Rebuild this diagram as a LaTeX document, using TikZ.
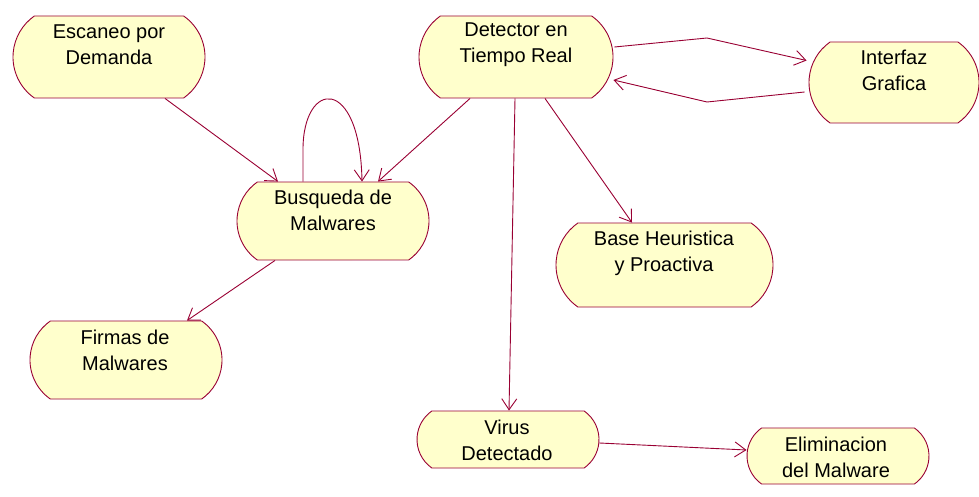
\documentclass[tikz,border=0pt]{standalone}
\usepackage{fontspec}
\setmainfont{Liberation Sans}
\usetikzlibrary{shapes.misc,arrows.meta}
\definecolor{edgered}{RGB}{153,0,51}
\definecolor{statefill}{RGB}{255,255,204}
\tikzset{
  state/.style={rounded rectangle, rounded rectangle arc length=110, draw=edgered, fill=statefill, line width=0.9pt, inner sep=0pt},
  lbl/.style={align=center, font=\fontsize{20}{26}\selectfont, inner sep=0pt},
  flow/.style={draw=edgered, line width=0.9pt, -{Straight Barb[length=11pt,width=15pt,line width=0.9pt]}}
}
\begin{document}
\begin{tikzpicture}[x=1pt,y=-1pt]
\useasboundingbox (0,0) rectangle (979,497);
% states
\node[state, minimum width=192, minimum height=82] (esc) at (109,57) {};
\node[state, minimum width=194, minimum height=82] (det) at (516,57) {};
\node[state, minimum width=170, minimum height=81] (int) at (894,82.5) {};
\node[state, minimum width=192, minimum height=78] (bus) at (333,221) {};
\node[state, minimum width=217, minimum height=84] (base) at (664.5,265) {};
\node[state, minimum width=192, minimum height=78] (fir) at (126,360) {};
\node[state, minimum width=182, minimum height=57] (vir) at (508,439.5) {};
\node[state, minimum width=182, minimum height=56] (eli) at (838,456) {};
% texts
\node[lbl] (esct) at (109,45) {Escaneo por\\Demanda};
\node[lbl] (dett) at (516,45) {Detector en\\Tiempo Real};
\node[lbl] (intt) at (894,70) {Interfaz\\Grafica};
\node[lbl] (bust) at (333,210) {Busqueda de\\Malwares};
\node[lbl] (baset) at (664,253.5) {Base Heuristica\\y Proactiva};
\node[lbl] (firt) at (125,350) {Firmas de\\Malwares};
\node[lbl] (virt) at (507,440) {Virus\\Detectado};
\node[lbl] (elit) at (836,457) {Eliminacion\\del Malware};
% bend points
\coordinate (b1) at (707,38);
\coordinate (b2) at (707,102);
% connectors
\draw[flow] ([xshift=56]esc.south) -- ([xshift=-55]bus.north);
\draw[flow] ([xshift=-30]bus.north) -- ++(0,-32) .. controls ++(0,-70) and (360,75) .. ([xshift=29]bus.north);
\draw[flow] ([xshift=-46]det.south) -- ([xshift=45]bus.north);
\draw[flow] ([xshift=-1]det.south) -- ([xshift=1]vir.north);
\draw[flow] ([xshift=29]det.south) -- ([xshift=-32.5]base.north);
\draw[flow] ([xshift=1,yshift=10]det.east) -- (b1) -- ([xshift=-2,yshift=22]int.west);
\draw[flow] ([xshift=-4,yshift=-9.5]int.west) -- (b2) -- ([yshift=-23]det.east);
\draw[flow] ([xshift=-58]bus.south) -- ([xshift=61]fir.north);
\draw[flow] ([yshift=-3.5]vir.east) -- ([yshift=6]eli.west);
\end{tikzpicture}
\end{document}
